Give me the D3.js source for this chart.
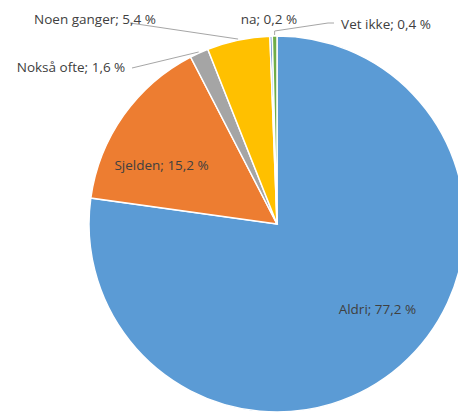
<!DOCTYPE html>
<html>
<head>
<meta charset="utf-8">
<script src="https://cdn.jsdelivr.net/npm/d3@7"></script>
<style>
  body { margin: 0; background: #fff; }
  text { font-family: "Open Sans", sans-serif; font-size: 13.5px; fill: #404040; }
</style>
</head>
<body>
<div id="chart"></div>
<script>
var categories = ["Aldri", "Sjelden", "Nokså ofte", "Noen ganger", "na", "Vet ikke"];
var values = [77.2, 15.2, 1.6, 5.4, 0.2, 0.4];
var colors = ["#5B9BD5", "#ED7D31", "#A5A5A5", "#FFC000", "#4472C4", "#70AD47"];

var width = 458, height = 412;
var cx = 277, cy = 224, radius = 188;

// where each outside label sits (anchor point), null = inside the slice
var labelPos = [null, null, [71, 67], [95, 19], [269, 19], [386, 24]];
// nudge for the inside labels
var labelNudge = [[14, -14], [-8, 17]];
// leader line start point next to the label
var leaderStart = [null, null, [132, 68], [130, 23], null, [334, 23]];

var svg = d3.select("#chart")
  .append("svg")
  .attr("width", width)
  .attr("height", height);

var g = svg.append("g")
  .attr("transform", "translate(" + cx + "," + cy + ")");

var pie = d3.pie().sort(null).value(function(d) { return d.value; });
var data = categories.map(function(c, i) { return {name: c, value: values[i], color: colors[i]}; });
var arcs = pie(data);

var arc = d3.arc().innerRadius(0).outerRadius(radius);
var labelArc = d3.arc().innerRadius(radius * 0.7).outerRadius(radius * 0.7);

g.selectAll("path.slice")
  .data(arcs)
  .enter()
  .append("path")
  .attr("class", "slice")
  .attr("d", arc)
  .style("fill", function(d) { return d.data.color; })
  .style("stroke", "#fff")
  .style("stroke-width", 1.5);

function fmt(v) {
  return String(v).replace(".", ",") + " %";
}

// leader lines for the small slices
arcs.forEach(function(d, i) {
  if (!leaderStart[i]) return;
  var mid = (d.startAngle + d.endAngle) / 2;
  var ex = Math.sin(mid) * (radius + 1);
  var ey = -Math.cos(mid) * (radius + 1);
  var sx = leaderStart[i][0] - cx, sy = leaderStart[i][1] - cy;
  var pts = [[sx, sy]];
  if (categories[i] == "Vet ikke") {
    pts.push([sx - 6, sy]);
    pts.push([ex, ey - 4]);
  }
  pts.push([ex, ey]);
  g.append("path")
    .attr("d", d3.line()(pts))
    .style("fill", "none")
    .style("stroke", "#a6a6a6")
    .style("stroke-width", 1);
});

// labels
arcs.forEach(function(d, i) {
  var t = g.append("text")
    .attr("text-anchor", "middle")
    .attr("dy", "0.35em")
    .text(d.data.name + "; " + fmt(d.data.value));
  if (labelPos[i]) {
    t.attr("x", labelPos[i][0] - cx).attr("y", labelPos[i][1] - cy);
  } else {
    var c = labelArc.centroid(d);
    t.attr("x", c[0] + labelNudge[i][0]).attr("y", c[1] + labelNudge[i][1]);
  }
});
</script>
</body>
</html>
